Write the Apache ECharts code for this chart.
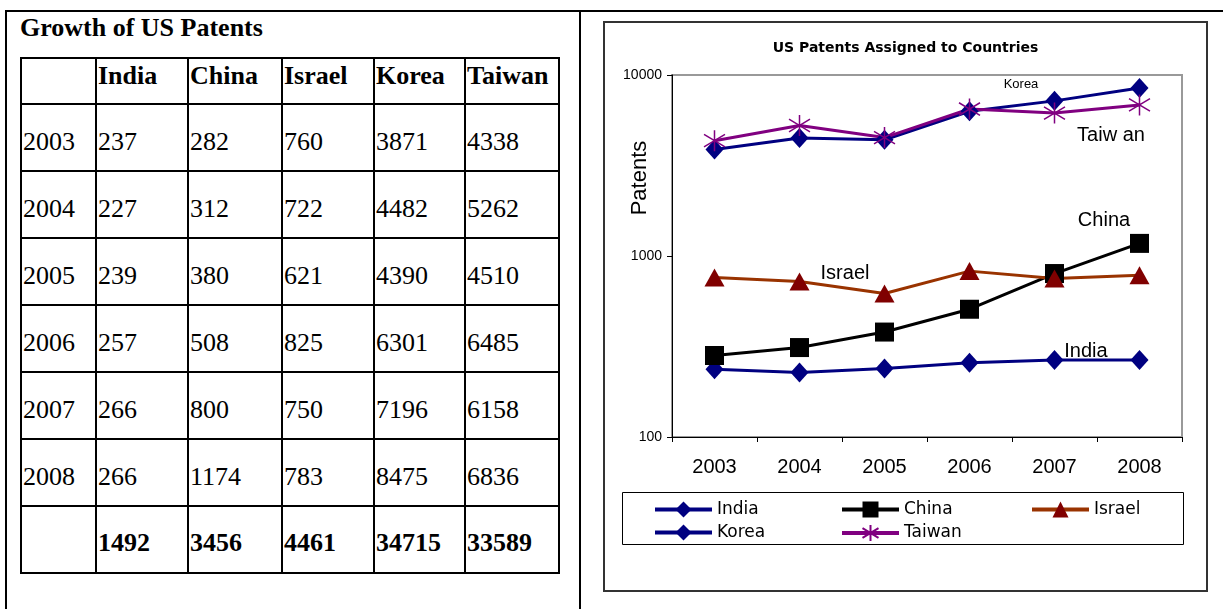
<!DOCTYPE html>
<html>
<head>
<meta charset="utf-8">
<title>US Patents</title>
<script src="https://cdn.jsdelivr.net/npm/echarts@6/dist/echarts.min.js"></script>
<style>
body { margin: 0; background: #fff; width: 1223px; height: 609px; overflow: hidden; position: relative; }
.frame { position: absolute; background: #000; }
#heading { position: absolute; left: 20px; top: 15px; font: bold 26px/26px 'Liberation Serif', 'Times New Roman', serif; color: #000; white-space: nowrap; }
#tbl { position: absolute; left: 20px; top: 57px; width: 538px; border-collapse: collapse; table-layout: fixed; font: 26px 'Liberation Serif', 'Times New Roman', serif; color: #000; }
#tbl td { border: 2px solid #000; padding: 8px 0 0 1px; text-align: left; vertical-align: middle; white-space: nowrap; overflow: hidden; }
#tbl tr.head td { font-weight: bold; padding: 0 0 10px 1px; }
#tbl tr.total td { font-weight: bold; padding: 6px 0 0 1px; }
#chartBox { position: absolute; left: 603px; top: 21px; width: 605px; height: 571px; box-sizing: border-box; border: 2px solid #333; }
#chart { position: absolute; left: 603px; top: 21px; width: 605px; height: 571px; }
</style>
</head>
<body>
<div class="frame" style="left:5px;top:10px;width:1218px;height:2px;"></div>
<div class="frame" style="left:5px;top:10px;width:2px;height:599px;"></div>
<div class="frame" style="left:579px;top:10px;width:2px;height:599px;"></div>
<div id="heading">Growth of US Patents</div>
<table id="tbl"></table>
<div id="chartBox"></div>
<div id="chart"></div>
<script>
/* 数据 */
var years = ['2003', '2004', '2005', '2006', '2007', '2008'];
var countries = ['India', 'China', 'Israel', 'Korea', 'Taiwan'];
var india = [237, 227, 239, 257, 266, 266];
var china = [282, 312, 380, 508, 800, 1174];
var israel = [760, 722, 621, 825, 750, 783];
var korea = [3871, 4482, 4390, 6301, 7196, 8475];
var taiwan = [4338, 5262, 4510, 6485, 6158, 6836];
var totals = [1492, 3456, 4461, 34715, 33589];
var chartTitle = 'US Patents Assigned to Countries';
var yName = 'Patents';

/* 左边的表格 */
var colWidths = [75, 92, 94, 92, 91, 94];
function buildTable() {
	var tbl = document.getElementById('tbl');
	var cols = [india, china, israel, korea, taiwan];
	var html = '<colgroup>';
	for (var c = 0; c < colWidths.length; c++)
		html += '<col style="width:' + colWidths[c] + 'px">';
	html += '</colgroup>';
	html += '<tr class="head" style="height:46px"><td></td>';
	for (var i = 0; i < countries.length; i++)
		html += '<td>' + countries[i] + '</td>';
	html += '</tr>';
	for (var r = 0; r < years.length; r++) {
		html += '<tr style="height:67px"><td>' + years[r] + '</td>';
		for (var k = 0; k < cols.length; k++)
			html += '<td>' + cols[k][r] + '</td>';
		html += '</tr>';
	}
	html += '<tr class="total" style="height:67px"><td></td>';
	for (var t = 0; t < totals.length; t++)
		html += '<td>' + totals[t] + '</td>';
	html += '</tr>';
	tbl.innerHTML = html;
}

/* 折线图 */
var sansFont = "'Liberation Sans', Arial, sans-serif";
var starPath = 'path://M10,0L10,20M1,4L19,16M1,16L19,4';

function makeLegend(names, left) {
	return {
		data : names,
		orient : 'vertical',
		left : left,
		top : 480,
		padding : 0,
		itemWidth : 57,
		itemHeight : 20,
		itemGap : 6,
		lineStyle : { width : 4 },
		textStyle : {
			color : '#000',
			fontSize : 17,
			fontFamily : "'DejaVu Sans', Verdana, sans-serif"
		}
	};
}

function seriesLabel(text, x, y, size) {
	return {
		type : 'text',
		x : x,
		y : y,
		style : {
			text : text,
			fill : '#000',
			fontSize : size,
			fontFamily : sansFont,
			textAlign : 'center',
			textVerticalAlign : 'middle'
		}
	};
}

var optionLine = {
	animation : false,
	title : {
		text : chartTitle,
		left : 'center',
		top : 15,
		textStyle : {
			color : '#000',
			fontSize : 14,
			fontWeight : 'bold',
			fontFamily : "'DejaVu Sans', Verdana, sans-serif"
		}
	},
	grid : {
		left : 69,
		top : 54,
		width : 510,
		height : 362,
		show : true,
		borderColor : '#999',
		borderWidth : 2
	},
	legend : [ makeLegend([ 'India', 'Korea' ], 50), makeLegend([ 'China', 'Taiwan' ], 237), makeLegend([ 'Israel' ], 427) ],
	xAxis : {
		type : 'category',
		data : years,
		boundaryGap : true,
		axisLine : {
			lineStyle : { color : '#000', width : 1 }
		},
		axisTick : {
			show : true,
			length : 5,
			lineStyle : { color : '#000' }
		},
		axisLabel : {
			margin : 20,
			color : '#000',
			fontSize : 20,
			fontFamily : sansFont
		}
	},
	yAxis : {
		type : 'log',
		logBase : 10,
		min : 100,
		max : 10000,
		axisLine : {
			show : true,
			lineStyle : { color : '#000', width : 1 }
		},
		axisTick : {
			show : true,
			length : 5,
			lineStyle : { color : '#000' }
		},
		minorTick : { show : false },
		splitLine : { show : false },
		axisLabel : {
			margin : 10,
			color : '#000',
			fontSize : 14,
			fontFamily : sansFont,
			formatter : function(v) {
				return String(v);
			}
		}
	},
	graphic : [ {
		type : 'text',
		x : 37,
		y : 157,
		rotation : Math.PI / 2,
		style : {
			text : yName,
			fill : '#000',
			fontSize : 22,
			fontFamily : sansFont,
			textAlign : 'center',
			textVerticalAlign : 'middle'
		}
	}, {
		type : 'rect',
		shape : { x : 19.5, y : 471.5, width : 561, height : 52 },
		style : { fill : 'none', stroke : '#000', lineWidth : 1 }
	},
	seriesLabel('Korea', 418, 63, 13),
	seriesLabel('Taiw an', 508, 114, 20),
	seriesLabel('China', 501, 199, 20),
	seriesLabel('Israel', 242, 252, 20),
	seriesLabel('India', 483, 330, 20) ],
	series : [ {
		name : 'India',
		type : 'line',
		data : india,
		symbol : 'diamond',
		symbolSize : [ 18, 20 ],
		lineStyle : { color : '#000080', width : 3 },
		itemStyle : { color : '#000080' }
	}, {
		name : 'China',
		type : 'line',
		data : china,
		symbol : 'rect',
		symbolSize : 19,
		lineStyle : { color : '#000', width : 3 },
		itemStyle : { color : '#000' }
	}, {
		name : 'Israel',
		type : 'line',
		data : israel,
		symbol : 'triangle',
		symbolSize : [ 20, 18 ],
		lineStyle : { color : '#993300', width : 3 },
		itemStyle : { color : '#800000' }
	}, {
		name : 'Korea',
		type : 'line',
		data : korea,
		symbol : 'diamond',
		symbolSize : [ 18, 20 ],
		lineStyle : { color : '#000080', width : 3 },
		itemStyle : { color : '#000080' }
	}, {
		name : 'Taiwan',
		type : 'line',
		data : taiwan,
		symbol : starPath,
		symbolSize : 21,
		lineStyle : { color : '#800080', width : 3 },
		itemStyle : { color : '#800080', borderColor : '#800080', borderWidth : 1.5 }
	} ]
};

var myChartLine;
function initMyChartLine() {
	myChartLine = echarts.init(document.getElementById('chart'));
	myChartLine.setOption(optionLine, true);
}
buildTable();
initMyChartLine();
</script>
</body>
</html>
